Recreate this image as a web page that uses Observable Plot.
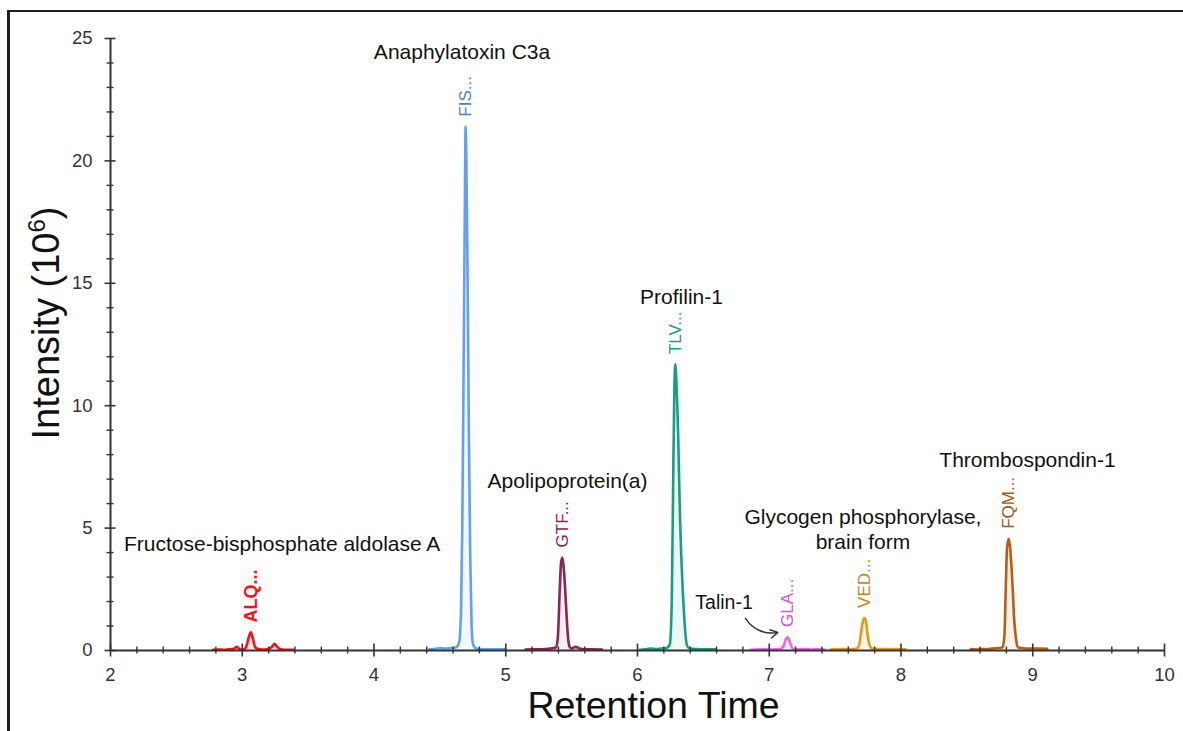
<!DOCTYPE html>
<html><head><meta charset="utf-8">
<script src="https://cdn.jsdelivr.net/npm/d3@7"></script>
<script src="https://cdn.jsdelivr.net/npm/@observablehq/plot@0.6"></script>
<style>
html,body{margin:0;padding:0;background:#fff;}
#wrap{position:relative;width:1183px;height:731px;overflow:hidden;background:#fff;}
#chart{position:absolute;left:0;top:0;}
#frame{position:absolute;left:7px;top:10px;width:1300px;height:800px;border-left:3px solid #1e1e1e;border-top:2.5px solid #1e1e1e;pointer-events:none;}
</style></head>
<body><div id="wrap"><div id="chart"></div><div id="frame"></div></div>
<script>
// ---- data ----
const proteinNames = ["Fructose-bisphosphate aldolase A", "Anaphylatoxin C3a", "Apolipoprotein(a)", "Profilin-1", "Talin-1", "Glycogen phosphorylase,\nbrain form", "Thrombospondin-1"];
const peptideLabels = ["ALQ...", "FIS...", "GTF...", "TLV...", "GLA...", "VED...", "FQM..."];
const seriesColors = ["#ff1010", "#62a0f4", "#8b2554", "#1a9e83", "#ee62ee", "#e69a12", "#b65e12"];
const labelColors = ["#ff1010", "#4f82cc", "#8b2554", "#1a9e83", "#d255d2", "#c98510", "#a9560f"];

const aldolaseRT = [2.78,2.82,2.86,2.90,2.93,2.96,2.98,3.01,3.03,3.05,3.065,3.08,3.10,3.13,3.17,3.20,3.225,3.245,3.265,3.29,3.32,3.36,3.39];
const aldolaseInt = [0.03,0.04,0.03,0.05,0.06,0.15,0.05,0.04,0.15,0.55,0.74,0.5,0.12,0.05,0.04,0.06,0.15,0.27,0.15,0.05,0.03,0.03,0.03];
const c3aRT = [4.42,4.46,4.50,4.54,4.58,4.62,4.645,4.66,4.67,4.68,4.69,4.695,4.70,4.71,4.72,4.73,4.74,4.75,4.77,4.80,4.85,4.90,4.95,5.00];
const c3aInt = [0.05,0.06,0.10,0.08,0.10,0.12,0.3,1.5,5.0,11.5,18.5,21.4,20.5,15.5,9.0,4.0,1.2,0.3,0.1,0.06,0.05,0.05,0.05,0.05];
const apoaRT = [5.15,5.20,5.25,5.30,5.34,5.38,5.395,5.41,5.42,5.43,5.44,5.45,5.46,5.47,5.485,5.50,5.53,5.56,5.60,5.65,5.73];
const apoaInt = [0.04,0.05,0.05,0.06,0.08,0.12,0.5,2.5,3.6,3.8,3.4,2.6,1.6,0.7,0.15,0.08,0.15,0.08,0.05,0.05,0.04];
const profilinRT = [6.02,6.06,6.10,6.14,6.18,6.22,6.245,6.26,6.27,6.28,6.288,6.295,6.31,6.32,6.335,6.35,6.365,6.38,6.40,6.45,6.50,6.55,6.59];
const profilinInt = [0.03,0.05,0.08,0.06,0.08,0.10,0.25,2.0,6.5,10.8,11.7,11.0,8.5,6.0,3.5,1.8,0.6,0.15,0.08,0.06,0.05,0.05,0.05];
const talinRT = [6.86,6.90,6.95,7.00,7.05,7.09,7.11,7.125,7.138,7.15,7.165,7.18,7.22,7.27,7.32,7.37,7.42];
const talinInt = [0.03,0.04,0.06,0.04,0.05,0.07,0.2,0.45,0.55,0.45,0.2,0.07,0.05,0.06,0.04,0.05,0.04];
const glycogenRT = [7.465,7.50,7.55,7.60,7.64,7.67,7.685,7.70,7.712,7.723,7.735,7.745,7.76,7.78,7.82,7.88,7.94,8.00,8.034];
const glycogenInt = [0.04,0.05,0.06,0.05,0.06,0.10,0.3,0.85,1.22,1.33,1.15,0.7,0.25,0.08,0.06,0.06,0.05,0.05,0.05];
const thrombRT = [8.53,8.57,8.61,8.65,8.69,8.73,8.77,8.785,8.795,8.805,8.818,8.83,8.845,8.86,8.875,8.89,8.92,8.96,9.00,9.05,9.11];
const thrombInt = [0.06,0.04,0.06,0.05,0.08,0.1,0.12,0.6,2.5,4.2,4.56,4.1,2.8,1.2,0.4,0.12,0.1,0.08,0.08,0.08,0.07];

// annotation anchors for the protein names (data units: retention time, intensity)
const nameRT = [3.303, 4.668, 5.469, 6.334, 6.657, 7.711, 8.960];
const nameIntensity = [4.40, 24.48, 6.97, 14.47, 1.99, 4.97, 7.83];
// Talin-1 pointer arrow (data units)
const talinArrow = [{x1: 6.82, y1: 1.31, x2: 7.065, y2: 0.74}];

const xMajor = [2,3,4,5,6,7,8,9,10];
const xMinor = [2.2,2.4,2.6,2.8,3.2,3.4,3.6,3.8,4.2,4.4,4.6,4.8,5.2,5.4,5.6,5.8,6.2,6.4,6.6,6.8,7.2,7.4,7.6,7.8,8.2,8.4,8.6,8.8,9.2,9.4,9.6,9.8];
const yMajor = [0,5,10,15,20,25];
const yMinor = [1,2,3,4,6,7,8,9,11,12,13,14,16,17,18,19,21,22,23,24];
const xTitle = "Retention Time";
const yTitle = "Intensity (10\u2076)";

// ---- build tables ----
const seriesRT = [aldolaseRT, c3aRT, apoaRT, profilinRT, talinRT, glycogenRT, thrombRT];
const seriesInt = [aldolaseInt, c3aInt, apoaInt, profilinInt, talinInt, glycogenInt, thrombInt];
const traces = seriesRT.flatMap((rts, i) => rts.map((rt, j) => ({protein: proteinNames[i], rt, intensity: seriesInt[i][j]})));
const apexes = seriesRT.map((rts, i) => {
  const j = d3.maxIndex(seriesInt[i]);
  return {protein: proteinNames[i], peptide: peptideLabels[i], rt: rts[j], intensity: seriesInt[i][j], idx: i, color: labelColors[i]};
});
const names = proteinNames.map((name, i) => ({name, rt: nameRT[i], intensity: nameIntensity[i]}));

const FONT = "'Liberation Sans', Arial, Helvetica, sans-serif";
const AX = "#333";
const curve = "monotone-x";

const chart = Plot.plot({
  width: 1183, height: 731,
  marginLeft: 110, marginRight: 19, marginTop: 38, marginBottom: 81,
  style: {fontFamily: FONT, fontSize: "18px", background: "transparent", color: "#222"},
  x: {domain: [2, 10]},
  y: {domain: [0, 25]},
  color: {domain: proteinNames, range: seriesColors},
  marks: [
    Plot.areaY(traces, {x: "rt", y: "intensity", z: "protein", fill: "protein", fillOpacity: 0.08, curve}),
    Plot.lineY(traces, {x: "rt", y: "intensity", z: "protein", stroke: "protein", strokeWidth: 2.6, curve}),
    Plot.ruleY([0], {stroke: AX, strokeWidth: 2}),
    Plot.ruleX([2], {stroke: AX, strokeWidth: 2}),
    Plot.axisX({ticks: xMajor, tickSize: 13, dy: -6.5, tickPadding: 11, fontSize: 18.5, color: AX, strokeWidth: 1.6, label: null}),
    Plot.axisX({ticks: xMinor, tickSize: 7, dy: -3.5, tickFormat: () => "", color: AX, strokeWidth: 1.4, label: null}),
    Plot.axisY({ticks: yMajor, tickSize: 11, dx: 5.5, tickPadding: 12.5, fontSize: 18.5, color: AX, strokeWidth: 1.6, label: null}),
    Plot.axisY({ticks: yMinor, tickSize: 7, dx: 3.5, tickFormat: () => "", color: AX, strokeWidth: 1.4, label: null}),
    Plot.text(apexes.filter(d => d.idx === 0), {x: "rt", y: "intensity", text: "peptide", fill: "color", rotate: -90, textAnchor: "start", lineAnchor: "middle", dy: -10, fontSize: 18, fontWeight: "bold"}),
    Plot.text(apexes.filter(d => d.idx !== 0), {x: "rt", y: "intensity", text: "peptide", fill: "color", rotate: -90, textAnchor: "start", lineAnchor: "middle", dy: -10, fontSize: 17}),
    Plot.text(names, {x: "rt", y: "intensity", text: "name", fill: "#111", lineAnchor: "middle", lineHeight: 1.2, fontSize: d => d.name === "Talin-1" ? 19.5 : 21}),
    Plot.arrow(talinArrow, {x1: "x1", y1: "y1", x2: "x2", y2: "y2", bend: -35, stroke: "#333", strokeWidth: 1.4, headLength: 9}),
    Plot.text([xTitle], {frameAnchor: "bottom", textAnchor: "middle", dx: 16, dy: 55, fontSize: 37.5, lineAnchor: "middle", fill: "#111"}),
    Plot.text([yTitle], {frameAnchor: "left", textAnchor: "middle", rotate: -90, dx: -64, dy: -21.5, fontSize: 38, lineAnchor: "middle", fill: "#111", className: "ytitle"})
  ]
});
document.getElementById("chart").appendChild(chart);

// superscript exponent on the y title
const yt = chart.querySelector(".ytitle text");
if (yt) {
  const ns = "http://www.w3.org/2000/svg";
  yt.textContent = "";
  const a = document.createElementNS(ns, "tspan"); a.textContent = "Intensity (10";
  const b = document.createElementNS(ns, "tspan"); b.textContent = "6"; b.setAttribute("font-size", "24"); b.setAttribute("dy", "-14");
  const c = document.createElementNS(ns, "tspan"); c.textContent = ")"; c.setAttribute("dy", "14");
  yt.append(a, b, c);
}
</script></body></html>
